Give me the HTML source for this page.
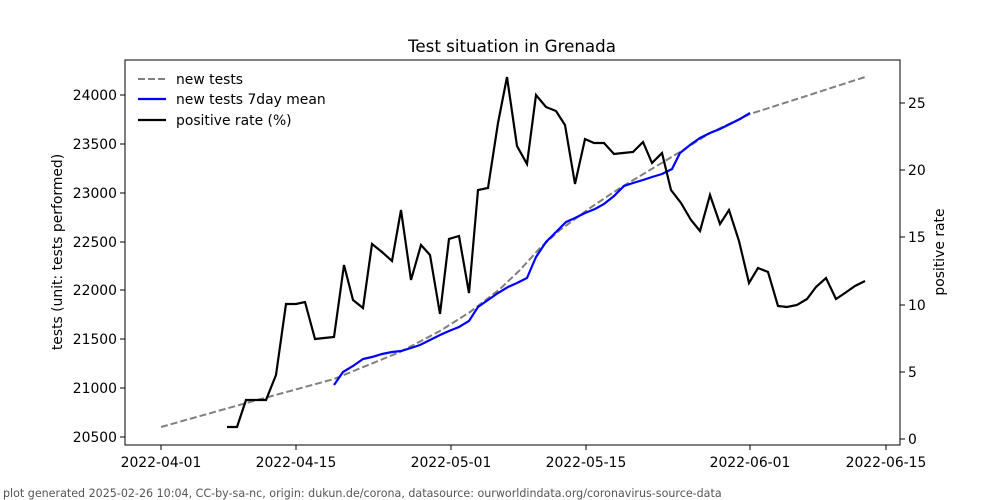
<!DOCTYPE html>
<html><head><meta charset="utf-8"><style>body{margin:0;background:#fff}svg{display:block}text{font-family:"DejaVu Sans","Liberation Sans",sans-serif;fill:#000}</style></head>
<body>
<svg width="1000" height="500" xmlns="http://www.w3.org/2000/svg">
<rect width="1000" height="500" fill="#fff"/>
<text x="512" y="52" font-size="16.7" text-anchor="middle">Test situation in Grenada</text>
<polyline fill="none" stroke="#808080" stroke-width="2" stroke-dasharray="7,3" points="161,427 250,402 334,379 400,352 440,331 470,312 500,289 520,270 540,248 560,230 590,208 620,188 650,170 680,152 710,133 750,114 800,98 865,77"/>
<polyline fill="none" stroke="#0000ff" stroke-width="2.2" points="334,385 343,372 353,366 363,359 372,357 382,354 392,352 401,351 411,348 420,345 430,340 440,335 449,331 459,327 469,321 478,307 488,300 498,293 508,287 517,283 527,278 536,257 546,242 556,232 566,222 575,218 585,213 595,209 604,204 614,196 624,186 633,183 643,180 652,177 662,174 672,169 680,153 690,145 700,138 710,133 720,129 730,124 740,119 750,113"/>
<polyline fill="none" stroke="#000" stroke-width="2.2" points="227,427 237,427 246,400 256,400 266,400 276,375 286,304 296,304 305,302 315,339 324,338 334,337 344,265 353,300 363,308 372,244 382,252 392,261 401,210 411,280 421,245 430,255 440,314 449,239 459,236 469,293 478,190 488,188 498,123 507,77 517,146 527,164 536,95 546,107 556,111 565,125 575,184 585,139 594,143 604,143 614,154 623,153 633,152 643,142 652,163 662,153 671,190 681,203 691,220 700,231 710,195 720,224 729,210 739,241 749,283 758,268 768,272 778,306 787,307 797,305 807,299 816,287 826,278 836,299 845,293 855,286 865,281"/>
<rect x="125" y="60" width="775" height="385" fill="none" stroke="#000" stroke-width="1"/>
<g stroke="#000" stroke-width="1">
<line x1="161" y1="445" x2="161" y2="450"/><line x1="296" y1="445" x2="296" y2="450"/><line x1="451" y1="445" x2="451" y2="450"/><line x1="586" y1="445" x2="586" y2="450"/><line x1="750" y1="445" x2="750" y2="450"/><line x1="886" y1="445" x2="886" y2="450"/>
<line x1="120" y1="437" x2="125" y2="437"/><line x1="120" y1="388" x2="125" y2="388"/><line x1="120" y1="339" x2="125" y2="339"/><line x1="120" y1="290" x2="125" y2="290"/><line x1="120" y1="242" x2="125" y2="242"/><line x1="120" y1="193" x2="125" y2="193"/><line x1="120" y1="144" x2="125" y2="144"/><line x1="120" y1="95" x2="125" y2="95"/>
<line x1="900" y1="439" x2="905" y2="439"/><line x1="900" y1="372" x2="905" y2="372"/><line x1="900" y1="305" x2="905" y2="305"/><line x1="900" y1="237" x2="905" y2="237"/><line x1="900" y1="170" x2="905" y2="170"/><line x1="900" y1="103" x2="905" y2="103"/>
</g>
<g font-size="13.9" text-anchor="middle">
<text x="161" y="467">2022-04-01</text><text x="296" y="467">2022-04-15</text><text x="451" y="467">2022-05-01</text><text x="586" y="467">2022-05-15</text><text x="750" y="467">2022-06-01</text><text x="886" y="467">2022-06-15</text>
</g>
<g font-size="13.9" text-anchor="end">
<text x="117" y="442">20500</text><text x="117" y="393">21000</text><text x="117" y="344">21500</text><text x="117" y="295">22000</text><text x="117" y="247">22500</text><text x="117" y="198">23000</text><text x="117" y="149">23500</text><text x="117" y="100">24000</text>
</g>
<g font-size="13.9">
<text x="908" y="444">0</text><text x="908" y="377">5</text><text x="908" y="310">10</text><text x="908" y="242">15</text><text x="908" y="175">20</text><text x="908" y="108">25</text>
</g>
<text font-size="13.9" transform="translate(62,252) rotate(-90)" text-anchor="middle">tests (unit: tests performed)</text>
<text font-size="13.9" transform="translate(944,252) rotate(-90)" text-anchor="middle">positive rate</text>
<line x1="138" y1="79" x2="166" y2="79" stroke="#808080" stroke-width="2" stroke-dasharray="7,3"/>
<line x1="138" y1="99" x2="166" y2="99" stroke="#0000ff" stroke-width="2.2"/>
<line x1="138" y1="120" x2="166" y2="120" stroke="#000" stroke-width="2.2"/>
<g font-size="13.9"><text x="176" y="84">new tests</text><text x="176" y="104">new tests 7day mean</text><text x="176" y="125">positive rate (%)</text></g>
<text x="3" y="497" font-size="11.1" style="fill:#555">plot generated 2025-02-26 10:04, CC-by-sa-nc, origin: dukun.de/corona, datasource: ourworldindata.org/coronavirus-source-data</text>
</svg>
</body></html>
